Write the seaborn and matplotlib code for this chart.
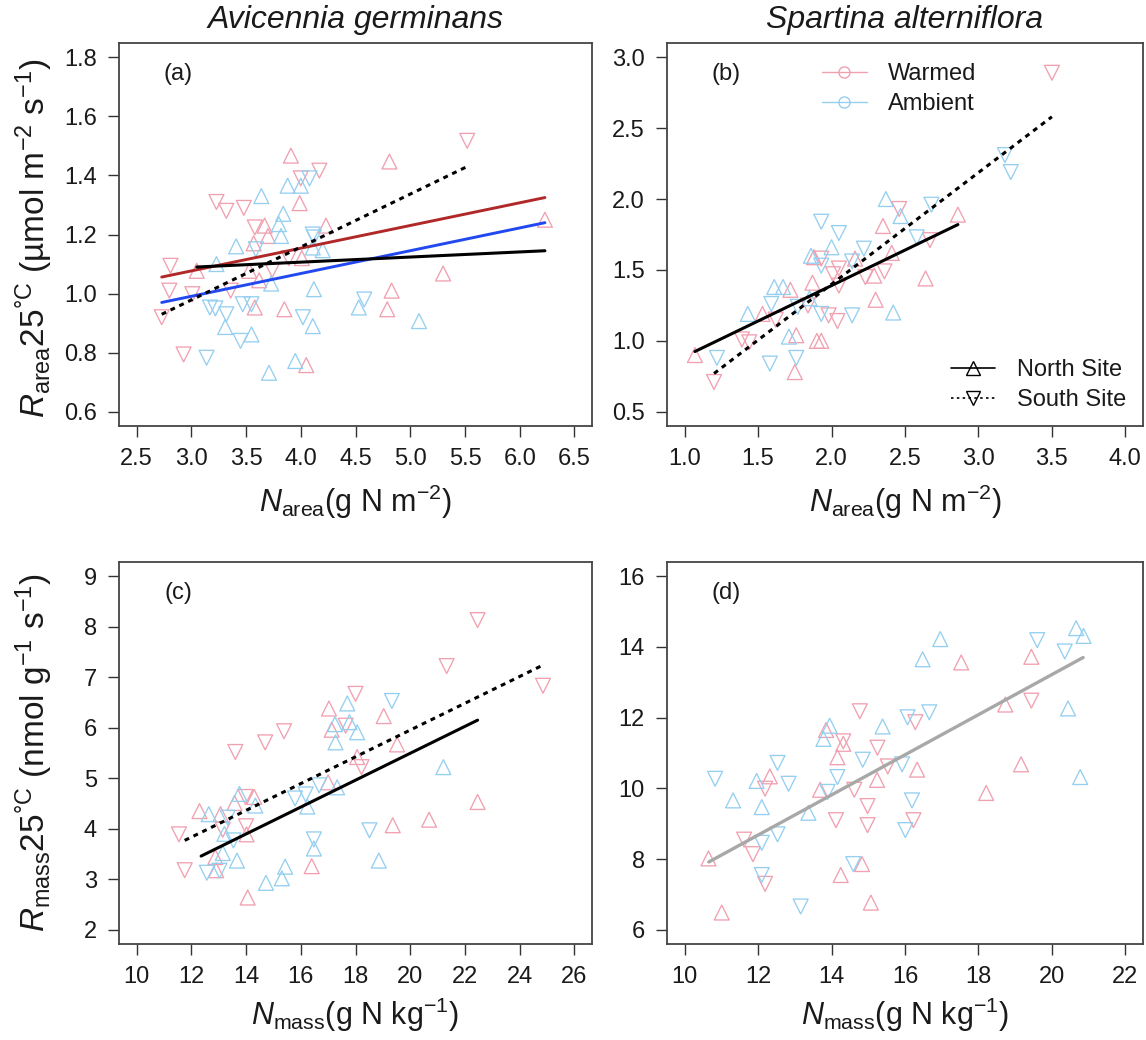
import matplotlib
matplotlib.use("Agg")
import matplotlib.pyplot as plt
import seaborn as sns
import pandas as pd
from matplotlib.lines import Line2D

# ---------------- data ----------------
# Panel (a) Avicennia germinans : N_area vs R_area25
a_wn_x = [3.91, 4.81, 3.99, 3.67, 3.70, 4.23, 3.57, 4.01, 3.05, 3.53, 3.62, 5.30, 6.23, 3.58, 3.85, 4.83, 4.79, 4.05]
a_wn_y = [1.467, 1.447, 1.306, 1.23, 1.195, 1.23, 1.17, 1.12, 1.077, 1.077, 1.045, 1.068, 1.25, 0.953, 0.947, 1.01, 0.947, 0.758]
a_ws_x = [5.52, 4.17, 4.00, 3.23, 3.32, 3.48, 3.58, 3.89, 2.81, 3.74, 2.80, 3.01, 3.36, 2.73, 2.93]
a_ws_y = [1.517, 1.416, 1.39, 1.31, 1.28, 1.29, 1.224, 1.12, 1.094, 1.08, 1.01, 0.998, 1.01, 0.92, 0.794]
a_an_x = [3.88, 4.00, 3.64, 3.84, 3.80, 3.82, 3.41, 4.11, 4.20, 3.23, 3.73, 4.12, 4.11, 4.53, 5.08, 3.31, 3.55, 3.95, 3.71]
a_an_y = [1.365, 1.365, 1.33, 1.27, 1.235, 1.195, 1.16, 1.156, 1.147, 1.10, 1.034, 1.015, 0.89, 0.953, 0.907, 0.887, 0.862, 0.772, 0.732]
a_as_x = [4.08, 4.11, 4.12, 3.59, 3.17, 3.22, 3.32, 3.47, 3.55, 4.02, 4.58, 3.45, 3.14]
a_as_y = [1.39, 1.20, 1.19, 1.15, 0.953, 0.95, 0.93, 0.964, 0.964, 0.92, 0.98, 0.84, 0.783]
a_fit_warm_x, a_fit_warm_y = [2.73, 6.23], [1.056, 1.325]
a_fit_amb_x, a_fit_amb_y = [2.73, 6.23], [0.97, 1.24]
a_fit_north_x, a_fit_north_y = [3.05, 6.23], [1.09, 1.145]
a_fit_south_x, a_fit_south_y = [2.73, 5.52], [0.93, 1.43]
a_xticks = [2.5, 3.0, 3.5, 4.0, 4.5, 5.0, 5.5, 6.0, 6.5]
a_xticklabels = ["2.5", "3.0", "3.5", "4.0", "4.5", "5.0", "5.5", "6.0", "6.5"]
a_yticks = [0.6, 0.8, 1.0, 1.2, 1.4, 1.6, 1.8]
a_yticklabels = ["0.6", "0.8", "1.0", "1.2", "1.4", "1.6", "1.8"]

# Panel (b) Spartina alterniflora : N_area vs R_area25
b_wn_x = [2.86, 2.35, 2.41, 1.88, 2.16, 2.29, 2.64, 1.72, 1.87, 2.30, 1.53, 1.76, 1.90, 1.93, 1.07, 1.75]
b_wn_y = [1.89, 1.81, 1.62, 1.59, 1.58, 1.46, 1.44, 1.36, 1.41, 1.29, 1.19, 1.04, 1.00, 1.00, 0.90, 0.78]
b_ws_x = [3.50, 2.46, 2.67, 1.93, 2.05, 2.01, 2.36, 2.23, 2.05, 1.84, 1.62, 1.98, 2.04, 1.39, 1.44, 1.20]
b_ws_y = [2.89, 1.93, 1.71, 1.58, 1.51, 1.47, 1.49, 1.45, 1.39, 1.25, 1.15, 1.18, 1.14, 1.01, 0.99, 0.71]
b_an_x = [2.37, 2.47, 2.00, 1.86, 1.61, 1.67, 1.85, 1.43, 2.42, 1.71]
b_an_y = [2.00, 1.88, 1.66, 1.60, 1.38, 1.38, 1.30, 1.19, 1.20, 1.03]
b_as_x = [3.18, 3.22, 2.68, 1.93, 2.05, 2.58, 2.22, 1.93, 2.14, 1.59, 1.77, 1.93, 2.14, 1.22, 1.76, 1.58]
b_as_y = [2.31, 2.19, 1.96, 1.84, 1.76, 1.73, 1.65, 1.53, 1.56, 1.26, 1.24, 1.19, 1.18, 0.88, 0.88, 0.84]
b_fit_north_x, b_fit_north_y = [1.07, 2.86], [0.925, 1.82]
b_fit_south_x, b_fit_south_y = [1.20, 3.50], [0.77, 2.58]
b_xticks = [1.0, 1.5, 2.0, 2.5, 3.0, 3.5, 4.0]
b_xticklabels = ["1.0", "1.5", "2.0", "2.5", "3.0", "3.5", "4.0"]
b_yticks = [0.5, 1.0, 1.5, 2.0, 2.5, 3.0]
b_yticklabels = ["0.5", "1.0", "1.5", "2.0", "2.5", "3.0"]

# Panel (c) Avicennia germinans : N_mass vs R_mass25
c_wn_x = [17.03, 19.03, 17.13, 19.52, 18.06, 17.0, 14.30, 13.58, 12.30, 13.07, 14.02, 12.88, 12.91, 19.36, 20.69, 22.46, 16.40, 14.06]
c_wn_y = [6.38, 6.23, 5.96, 5.67, 5.42, 4.92, 4.63, 4.51, 4.35, 4.29, 3.89, 3.44, 3.18, 4.07, 4.18, 4.53, 3.26, 2.64]
c_ws_x = [22.46, 21.33, 24.85, 18.0, 17.64, 15.39, 14.70, 13.61, 18.22, 13.98, 13.15, 14.0, 11.55, 11.76]
c_ws_y = [8.13, 7.22, 6.83, 6.67, 6.04, 5.93, 5.71, 5.52, 5.22, 4.63, 3.98, 4.05, 3.89, 3.18]
c_an_x = [17.70, 17.25, 17.78, 18.06, 17.27, 21.21, 17.33, 16.24, 13.76, 14.34, 12.64, 13.21, 13.15, 13.67, 16.48, 18.85, 15.43, 15.31, 14.73]
c_an_y = [6.48, 6.07, 6.11, 5.91, 5.71, 5.22, 4.82, 4.44, 4.69, 4.46, 4.29, 3.90, 3.52, 3.37, 3.61, 3.37, 3.25, 3.02, 2.93]
c_as_x = [19.33, 16.67, 16.18, 15.79, 13.33, 13.54, 12.57, 13.03, 16.48, 18.51]
c_as_y = [6.53, 4.86, 4.68, 4.60, 4.22, 3.77, 3.13, 3.17, 3.79, 3.97]
c_fit_north_x, c_fit_north_y = [12.36, 22.46], [3.46, 6.15]
c_fit_south_x, c_fit_south_y = [11.76, 24.85], [3.77, 7.24]
c_xticks = [10, 12, 14, 16, 18, 20, 22, 24, 26]
c_xticklabels = ["10", "12", "14", "16", "18", "20", "22", "24", "26"]
c_yticks = [2, 3, 4, 5, 6, 7, 8, 9]
c_yticklabels = ["2", "3", "4", "5", "6", "7", "8", "9"]

# Panel (d) Spartina alterniflora : N_mass vs R_mass25
d_wn_x = [19.44, 17.53, 18.73, 13.85, 14.32, 14.16, 16.33, 19.16, 15.24, 12.32, 13.69, 18.21, 10.65, 14.83, 14.25, 15.07, 11.01]
d_wn_y = [13.72, 13.56, 12.37, 11.65, 11.26, 10.88, 10.53, 10.68, 10.24, 10.34, 9.96, 9.87, 8.02, 7.86, 7.55, 6.77, 6.49]
d_ws_x = [19.44, 14.77, 16.28, 14.32, 15.25, 15.53, 12.19, 14.62, 14.98, 14.12, 14.98, 16.23, 11.62, 11.86, 12.19]
d_ws_y = [12.48, 12.18, 11.87, 11.33, 11.15, 10.62, 9.99, 9.96, 9.50, 9.10, 8.96, 9.10, 8.55, 8.14, 7.30]
d_an_x = [20.66, 20.86, 16.96, 16.48, 20.44, 13.95, 15.39, 13.78, 20.77, 11.96, 11.32, 12.10, 13.37]
d_an_y = [14.53, 14.31, 14.22, 13.65, 12.26, 11.77, 11.75, 11.40, 10.32, 10.21, 9.66, 9.47, 9.31]
d_as_x = [19.6, 20.35, 16.66, 16.07, 14.85, 15.92, 14.16, 10.83, 12.53, 12.83, 13.89, 16.19, 16.01, 12.10, 12.53, 12.10, 14.59, 13.16]
d_as_y = [14.19, 13.87, 12.15, 12.01, 10.81, 10.68, 10.32, 10.27, 10.72, 10.13, 9.90, 9.66, 8.82, 8.46, 8.70, 7.55, 7.86, 6.66]
d_fit_all_x, d_fit_all_y = [10.66, 20.85], [7.92, 13.70]
d_xticks = [10, 12, 14, 16, 18, 20, 22]
d_xticklabels = ["10", "12", "14", "16", "18", "20", "22"]
d_yticks = [6, 8, 10, 12, 14, 16]
d_yticklabels = ["6", "8", "10", "12", "14", "16"]

titles = ["Avicennia germinans", "Spartina alterniflora"]
panel_tags = ["(a)", "(b)", "(c)", "(d)"]
legend_trt = ["Warmed", "Ambient"]
legend_site = ["North Site", "South Site"]

# ---------------- style ----------------
sns.set_theme(style="ticks")
plt.rcParams["font.family"] = ["Liberation Sans", "DejaVu Sans"]
plt.rcParams["mathtext.fontset"] = "custom"
plt.rcParams["mathtext.rm"] = "Liberation Sans"
plt.rcParams["mathtext.it"] = "Liberation Sans:italic"
plt.rcParams["mathtext.bf"] = "Liberation Sans:bold"

PINK = "#F1A0B0"
LBLUE = "#95CFF0"
RED = "#B02828"
BLUE = "#2248F0"
GRAY = "#A8A8A8"
DOT = (0, (1.6, 1.6))

W, H = 1146, 1040
fig = plt.figure(figsize=(W / 100, H / 100), dpi=100)


def px_axes(left, top, right, bottom):
    return fig.add_axes([left / W, 1 - bottom / H, (right - left) / W, (bottom - top) / H])


ax_a = px_axes(119, 43, 592, 426)
ax_b = px_axes(667, 43, 1143, 426)
ax_c = px_axes(119, 562, 592, 944)
ax_d = px_axes(667, 562, 1143, 944)


def scatter_groups(ax, groups):
    for xs, ys, col, mk in groups:
        df = pd.DataFrame({"x": xs, "y": ys})
        sns.scatterplot(data=df, x="x", y="y", ax=ax, marker=mk, s=115,
                        color=col, facecolor="none", edgecolor=col,
                        linewidth=0.95, legend=False, zorder=2)


def fit_line(ax, xs, ys, color, ls="-", lw=2.2):
    sns.lineplot(x=xs, y=ys, ax=ax, color=color, linestyle=ls, linewidth=lw,
                 estimator=None, sort=False, zorder=3)


def style_axes(ax, xticks, xtl, yticks, ytl):
    xr = xticks[-1] - xticks[0]
    yr = yticks[-1] - yticks[0]
    ax.set_xlim(xticks[0] - 0.04 * xr, xticks[-1] + 0.04 * xr)
    ax.set_ylim(yticks[0] - 0.04 * yr, yticks[-1] + 0.04 * yr)
    ax.set_xticks(xticks)
    ax.set_xticklabels(xtl)
    ax.set_yticks(yticks)
    ax.set_yticklabels(ytl)
    ax.tick_params(direction="out", length=8, width=1.0, color="#333333",
                   labelsize=17, labelcolor="#1a1a1a", pad=8)
    for sp in ax.spines.values():
        sp.set_color("#444444")
        sp.set_linewidth(1.3)
    ax.set_xlabel("")
    ax.set_ylabel("")


# Panel (a)
scatter_groups(ax_a, [(a_wn_x, a_wn_y, PINK, "^"), (a_ws_x, a_ws_y, PINK, "v"),
                      (a_an_x, a_an_y, LBLUE, "^"), (a_as_x, a_as_y, LBLUE, "v")])
fit_line(ax_a, a_fit_warm_x, a_fit_warm_y, RED, lw=2.1)
fit_line(ax_a, a_fit_amb_x, a_fit_amb_y, BLUE, lw=2.1)
fit_line(ax_a, a_fit_north_x, a_fit_north_y, "black")
fit_line(ax_a, a_fit_south_x, a_fit_south_y, "black", ls=DOT)
style_axes(ax_a, a_xticks, a_xticklabels, a_yticks, a_yticklabels)

# Panel (b)
scatter_groups(ax_b, [(b_wn_x, b_wn_y, PINK, "^"), (b_ws_x, b_ws_y, PINK, "v"),
                      (b_an_x, b_an_y, LBLUE, "^"), (b_as_x, b_as_y, LBLUE, "v")])
fit_line(ax_b, b_fit_north_x, b_fit_north_y, "black")
fit_line(ax_b, b_fit_south_x, b_fit_south_y, "black", ls=DOT)
style_axes(ax_b, b_xticks, b_xticklabels, b_yticks, b_yticklabels)

# Panel (c)
scatter_groups(ax_c, [(c_wn_x, c_wn_y, PINK, "^"), (c_ws_x, c_ws_y, PINK, "v"),
                      (c_an_x, c_an_y, LBLUE, "^"), (c_as_x, c_as_y, LBLUE, "v")])
fit_line(ax_c, c_fit_north_x, c_fit_north_y, "black")
fit_line(ax_c, c_fit_south_x, c_fit_south_y, "black", ls=DOT)
style_axes(ax_c, c_xticks, c_xticklabels, c_yticks, c_yticklabels)

# Panel (d)
scatter_groups(ax_d, [(d_wn_x, d_wn_y, PINK, "^"), (d_ws_x, d_ws_y, PINK, "v"),
                      (d_an_x, d_an_y, LBLUE, "^"), (d_as_x, d_as_y, LBLUE, "v")])
fit_line(ax_d, d_fit_all_x, d_fit_all_y, GRAY, lw=2.4)
style_axes(ax_d, d_xticks, d_xticklabels, d_yticks, d_yticklabels)

# Titles
for ax, t in zip([ax_a, ax_b], titles):
    ax.text(0.5, 1.0 + 23 / 383, t, transform=ax.transAxes, ha="center", va="center",
            fontsize=23, style="italic", color="#1a1a1a")

# Panel tags
for ax, t in zip([ax_a, ax_b, ax_c, ax_d], panel_tags):
    ax.text(0.125, 0.92, t, transform=ax.transAxes, ha="center", va="center",
            fontsize=17, color="#1a1a1a")

# Axis labels
xl_area = r"$\mathit{N}_{\mathrm{area}}\mathrm{(g\ N\ m^{-2})}$"
xl_mass = r"$\mathit{N}_{\mathrm{mass}}\mathrm{(g\ N\ kg^{-1})}$"
yl_area = r"$\mathit{R}_{\mathrm{area}}\mathrm{25^{°C}\ (µmol\ m^{-2}\ s^{-1})}$"
yl_mass = r"$\mathit{R}_{\mathrm{mass}}\mathrm{25^{°C}\ (nmol\ g^{-1}\ s^{-1})}$"

for ax, lab, yc in [(ax_a, xl_area, -0.198), (ax_b, xl_area, -0.198),
                    (ax_c, xl_mass, -0.186), (ax_d, xl_mass, -0.186)]:
    ax.set_xlabel(lab, fontsize=22, color="#1a1a1a")
    ax.xaxis.label.set_va("center")
    ax.xaxis.set_label_coords(0.5, yc)

for ax, lab, yc in [(ax_a, yl_area, 0.49), (ax_c, yl_mass, 0.5)]:
    ax.set_ylabel(lab, fontsize=24, color="#1a1a1a")
    ax.yaxis.label.set_va("center")
    ax.yaxis.label.set_ha("center")
    ax.yaxis.set_label_coords(-0.18, yc)

# Legends in panel (b)
trt_handles = [Line2D([0], [0], color=PINK, lw=1.0, marker="o", markersize=8,
                      markerfacecolor="none", markeredgecolor=PINK, markeredgewidth=1.0),
               Line2D([0], [0], color=LBLUE, lw=1.0, marker="o", markersize=8,
                      markerfacecolor="none", markeredgecolor=LBLUE, markeredgewidth=1.0)]
leg1 = ax_b.legend(trt_handles, legend_trt, loc="upper left", bbox_to_anchor=(0.325, 0.947),
                   frameon=False, fontsize=17, handlelength=1.9, handletextpad=0.9,
                   labelspacing=0.33, borderpad=0, borderaxespad=0)
for t in leg1.get_texts():
    t.set_color("#1a1a1a")
ax_b.add_artist(leg1)

site_handles = [Line2D([0], [0], color="black", lw=1.2, marker="^", markersize=10,
                       markerfacecolor="none", markeredgecolor="black", markeredgewidth=1.0),
                Line2D([0], [0], color="black", lw=1.2, linestyle=(0, (1.5, 2.0)), marker="v",
                       markersize=10, markerfacecolor="none", markeredgecolor="black",
                       markeredgewidth=1.0)]
leg2 = ax_b.legend(site_handles, legend_site, loc="upper left", bbox_to_anchor=(0.597, 0.174),
                   frameon=False, fontsize=17, handlelength=1.85, handletextpad=0.95,
                   labelspacing=0.33, borderpad=0, borderaxespad=0)
for t in leg2.get_texts():
    t.set_color("#1a1a1a")

fig.savefig("out.png", dpi=100)
